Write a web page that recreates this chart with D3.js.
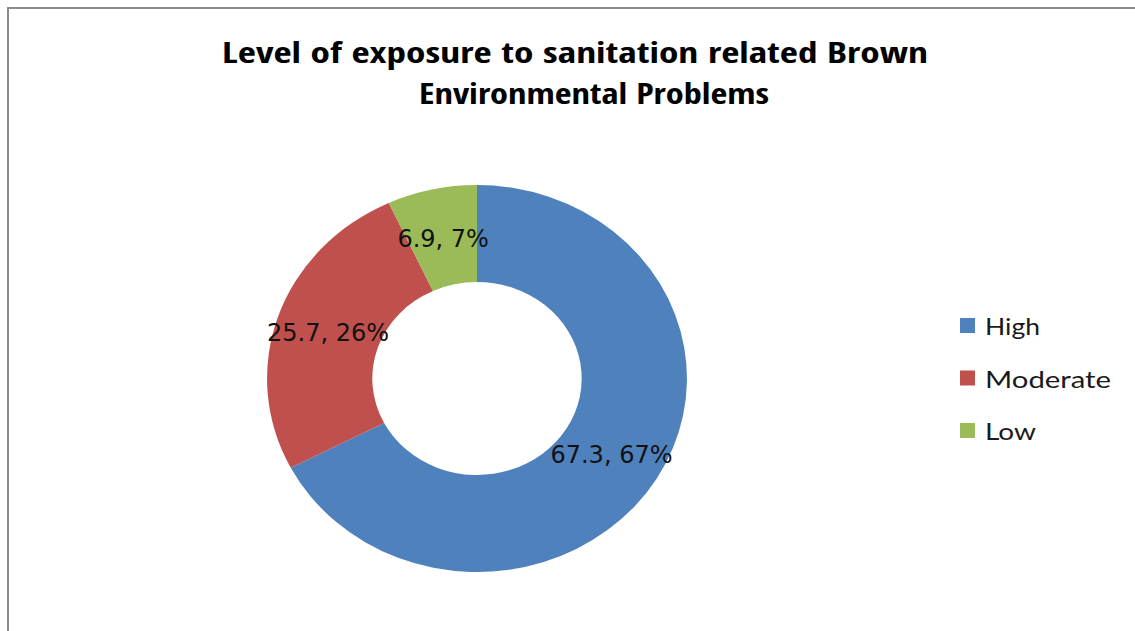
<!DOCTYPE html>
<html>
<head>
<meta charset="utf-8">
<script src="https://cdn.jsdelivr.net/npm/d3@7"></script>
<style>
  html, body { margin: 0; padding: 0; background: #ffffff; }
  svg { display: block; }
</style>
</head>
<body>
<svg id="chart" width="1135" height="631"></svg>
<script>
// ---- data ----
const categories = ["High", "Moderate", "Low"];
const values = [67.3, 25.7, 6.9];
const percentLabels = ["67%", "26%", "7%"];
const colors = ["#4F81BD", "#C0504D", "#9BBB59"];
const titleLines = ["Level of exposure to sanitation related Brown", "Environmental Problems"];

// ---- layout ----
const W = 1135, H = 631;
const cx = 477, cy = 378.5;
const outerR = 193.5, innerR = 96.5;
const sx = 1.085; // horizontal stretch seen in the reference

const svg = d3.select("#chart");

// chart area border (top & left visible)
svg.append("rect")
  .attr("x", 8).attr("y", 8)
  .attr("width", W + 20).attr("height", H + 20)
  .attr("fill", "#ffffff")
  .attr("stroke", "#8c8c8c")
  .attr("stroke-width", 2);

// title
const titleG = svg.append("g")
  .attr("font-family", "'Liberation Sans Narrow', 'Open Sans Condensed', Lato, sans-serif")
  .attr("font-weight", "bold")
  .attr("font-size", 29)
  .attr("fill", "#000");
const titlePos = [{x: 222, y: 63, len: 706}, {x: 419, y: 104, len: 350}];
titleG.selectAll("text").data(titleLines).join("text")
  .attr("x", (d, i) => titlePos[i].x)
  .attr("y", (d, i) => titlePos[i].y)
  .attr("textLength", (d, i) => titlePos[i].len)
  .attr("lengthAdjust", "spacingAndGlyphs")
  .text(d => d);

// donut
const pie = d3.pie().sort(null).value(d => d.value).startAngle(0).endAngle(2 * Math.PI);
const data = categories.map((c, i) => ({ cat: c, value: values[i], pct: percentLabels[i], color: colors[i] }));
const arcs = pie(data);
const arc = d3.arc().innerRadius(innerR).outerRadius(outerR);
const labelArc = d3.arc().innerRadius((innerR + outerR) / 2).outerRadius((innerR + outerR) / 2);

const donut = svg.append("g")
  .attr("transform", `translate(${cx},${cy}) scale(${sx},1)`);
donut.selectAll("path").data(arcs).join("path")
  .attr("d", arc)
  .attr("fill", d => d.data.color);

// data labels
svg.append("g")
  .attr("font-family", "'DejaVu Sans', Verdana, sans-serif")
  .attr("font-size", 24)
  .attr("fill", "#111")
  .attr("text-anchor", "middle")
  .selectAll("text").data(arcs).join("text")
  .attr("x", d => cx + labelArc.centroid(d)[0] * sx)
  .attr("y", d => cy + labelArc.centroid(d)[1])
  .attr("dy", "0.4em")
  .text(d => `${d.data.value}, ${d.data.pct}`);

// legend
const legend = svg.append("g")
  .attr("font-family", "Lato, 'Open Sans', sans-serif")
  .attr("font-size", 24)
  .attr("fill", "#1a1a1a");
const legendLen = [55, 126, 51];
const item = legend.selectAll("g").data(data).join("g")
  .attr("transform", (d, i) => `translate(960,${318 + i * 52.5})`);
item.append("rect")
  .attr("width", 15).attr("height", 15)
  .attr("fill", d => d.color);
item.append("text")
  .attr("x", 25).attr("y", 17)
  .attr("textLength", (d, i) => legendLen[i])
  .attr("lengthAdjust", "spacingAndGlyphs")
  .text(d => d.cat);
</script>
</body>
</html>
